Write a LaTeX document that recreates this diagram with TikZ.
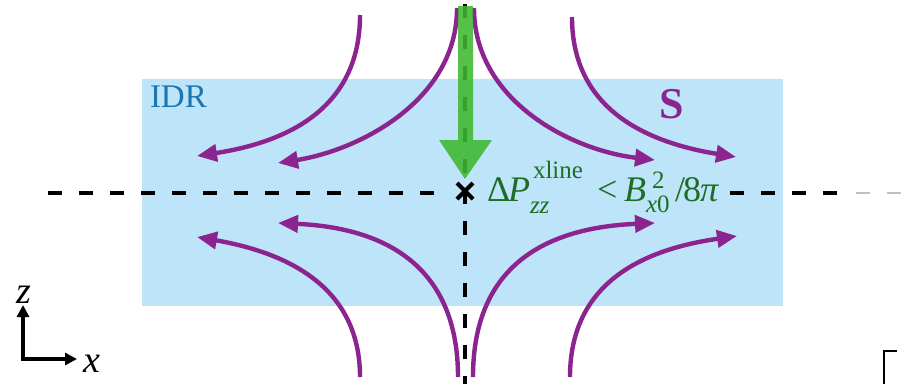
\documentclass[tikz,border=0pt]{standalone}
\usepackage{fontspec}
\setmainfont{Liberation Serif}
\usetikzlibrary{arrows.meta}
\definecolor{idrblue}{RGB}{190,228,250}
\definecolor{idrtext}{RGB}{27,117,174}
\definecolor{fieldpurple}{RGB}{140,36,144}
\definecolor{flowgreen}{RGB}{62,184,48}
\definecolor{labelgreen}{RGB}{28,110,36}
\newcommand{\xlmain}{\fontsize{36}{36}\selectfont}
\newcommand{\xlscr}{\fontsize{25}{25}\selectfont}
% place a piece at (dx,dy) from the start of the label
\newcommand{\xlpiece}[3]{\rlap{\hspace*{#1pt}\raisebox{#2pt}{#3}}}
\begin{document}
\begin{tikzpicture}[x=1pt,y=-1pt,
  fieldline/.style={draw=fieldpurple,line width=4.4pt,-{Triangle[length=20pt,width=17pt]}},
  guide/.style={draw=black,line width=3.2pt,dash pattern=on 14pt off 17pt},
  axisarrow/.style={draw=black,line width=3.2pt,-{Triangle[length=12pt,width=12pt]}},
  bigtext/.style={inner sep=0pt,outer sep=0pt}]
\useasboundingbox (0,0) rectangle (904,384);
% IDR region
\fill[idrblue] (142,79) rectangle (783,306);
\node[bigtext,anchor=base west,text=idrtext,font=\fontsize{33}{33}\selectfont] (idr) at (150,107) {IDR};
\node[bigtext,anchor=base west,text=fieldpurple,font=\fontsize{44}{44}\selectfont\bfseries] (s) at (659,118) {S};
% guide lines
\draw[guide] (48,193) -- (448,193);
\draw[guide] (730,193) -- (842,193);
\draw[draw=black!25,line width=1.5pt,dash pattern=on 14pt off 17pt] (856,193) -- (904,193);
\draw[guide] (465,4) -- (465,384);
% field lines, top
\draw[fieldline] (360,15) .. controls (360,100) and (300,140) .. (197,156);
\draw[fieldline] (457,8) .. controls (457,100) and (360,150) .. (278,163);
\draw[fieldline] (474,8) .. controls (474,100) and (570,150) .. (655,160);
\draw[fieldline] (572,17) .. controls (572,100) and (632,140) .. (736,157);
% field lines, bottom
\draw[fieldline] (360,377) .. controls (360,295) and (300,255) .. (197,237);
\draw[fieldline] (458,377) .. controls (458,270) and (390,228) .. (278,223);
\draw[fieldline] (473,377) .. controls (473,270) and (540,228) .. (655,223);
\draw[fieldline] (570,377) .. controls (570,295) and (625,252) .. (737,236);
% inflow arrow
\fill[flowgreen,opacity=0.88] (458,6) -- (473,6) -- (473,140) -- (492,140) -- (465,179) -- (439,140) -- (458,140) -- cycle;
% X-line marker
\coordinate (xl) at (465,191);
\draw[line width=4pt] ([shift={(-8,-8)}]xl) -- ([shift={(8,8)}]xl);
\draw[line width=4pt] ([shift={(-8,8)}]xl) -- ([shift={(8,-8)}]xl);
\node[bigtext,anchor=base west,text=labelgreen,font=\xlmain] (cond) at (487,201)
  {\xlpiece{0}{0}{Δ}%
   \xlpiece{21}{0}{\itshape P}%
   \xlpiece{46}{23}{\xlscr xline}%
   \xlpiece{43}{-12}{\xlscr\itshape zz}%
   \xlpiece{110}{0}{<}%
   \xlpiece{137}{0}{\itshape B}%
   \xlpiece{165}{13}{\xlscr 2}%
   \xlpiece{159}{-11}{\xlscr{\itshape x}0}%
   \xlpiece{188}{0}{/}%
   \xlpiece{196}{0}{8}%
   \xlpiece{213}{0}{\itshape π}%
   \hspace*{233pt}};
% axes
\coordinate (o) at (23,359);
\coordinate (zt) at (23,305);
\coordinate (xt) at (77,359);
\draw[axisarrow] (o) -- (zt);
\draw[axisarrow] ([xshift=-1.6pt]o) -- (xt);
\node[bigtext,anchor=base,font=\fontsize{38}{38}\selectfont\itshape] (zl) at (24,303) {z};
\node[bigtext,anchor=base west,font=\fontsize{38}{38}\selectfont\itshape] (xlab) at (83,372) {x};
% corner mark
\draw[line width=2.5pt] (884,384) -- (884,351) -- (897,351);
\end{tikzpicture}
\end{document}
